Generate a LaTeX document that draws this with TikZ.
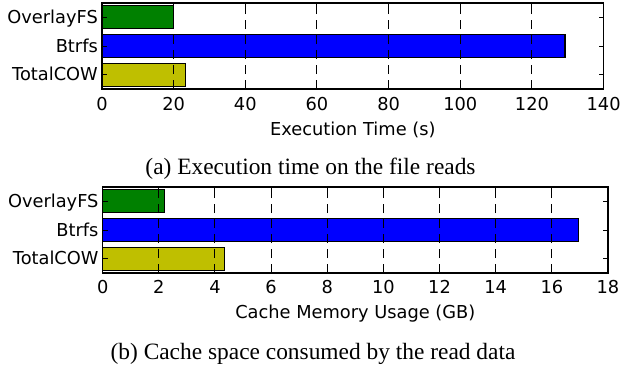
\documentclass[tikz,border=0pt]{standalone}
\usepackage{fontspec}
\setmainfont{Liberation Serif}
\newfontfamily\dejavu{DejaVu Sans}
\definecolor{mgreen}{RGB}{0,128,0}
\definecolor{mblue}{RGB}{0,0,255}
\definecolor{myellow}{RGB}{191,191,0}
\begin{document}
\begin{tikzpicture}[x=1pt,y=-1pt,
  bar/.style={draw=black, line width=1.2pt, anchor=west, minimum height=22.9pt, inner sep=0pt, outer sep=0pt},
  gridline/.style={line width=1pt, dash pattern=on 9pt off 6pt},
  frame/.style={line width=1.3pt},
  tickmark/.style={line width=1pt},
  ticklabel/.style={font=\dejavu\fontsize{17.8}{20}\selectfont, inner sep=0pt},
  axlabel/.style={font=\dejavu\fontsize{17.8}{20}\selectfont, inner sep=0pt, anchor=base},
  capt/.style={font=\fontsize{23.4}{26}\selectfont, inner sep=0pt, anchor=base}]
\useasboundingbox (0,0) rectangle (623,370);

% ---------- top plot ----------
\def\ux{3.583}
\node[bar, fill=mgreen,  minimum width=20*\ux pt]    (ta) at (102,17.3) {};
\node[bar, fill=mblue,   minimum width=129.2*\ux pt] (tb) at (102,46.0) {};
\node[bar, fill=myellow, minimum width=23.4*\ux pt]  (tc) at (102,74.7) {};
\foreach \v in {20,40,...,120}{
  \draw[gridline] ({102+\v*\ux},89) -- ({102+\v*\ux},3);
}
\coordinate (tnw) at (102,3);
\coordinate (tse) at (603.6,89);
\draw[frame] (tnw) rectangle (tse);
\foreach \v in {0,20,...,140}{
  \draw[tickmark] ({102+\v*\ux},89) -- ++(0,-5);
  \draw[tickmark] ({102+\v*\ux},3) -- ++(0,5);
  \node[ticklabel, anchor=base] at ({102+\v*\ux},110) {\v};
}
\foreach \yy in {17.3,46.0,74.7}{
  \draw[tickmark] (102,\yy) -- ++(5,0);
  \draw[tickmark] (603.6,\yy) -- ++(-5,0);
}
\node[ticklabel, anchor=base east] (tla) at (98,23.3) {OverlayFS};
\node[ticklabel, anchor=base east] (tlb) at (98,52.0) {Btrfs};
\node[ticklabel, anchor=base east] (tlc) at (98,80.7) {TotalCOW};
\node[axlabel] (txl) at (352.8,135) {Execution Time (s)};
\node[capt] (capa) at (310.5,174) {(a) Execution time on the file reads};

% ---------- bottom plot ----------
\def\vx{28.07}
\def\bx{102.7}
\node[bar, fill=mgreen,  minimum width=2.19*\vx pt] (ba) at (\bx,201.3) {};
\node[bar, fill=mblue,   minimum width=16.95*\vx pt] (bb) at (\bx,230.0) {};
\node[bar, fill=myellow, minimum width=4.33*\vx pt] (bc) at (\bx,258.7) {};
\foreach \v in {2,4,...,16}{
  \draw[gridline] ({\bx+\v*\vx},273) -- ({\bx+\v*\vx},187);
}
\coordinate (bnw) at (\bx,187);
\coordinate (bse) at (608,273);
\draw[frame] (bnw) rectangle (bse);
\foreach \v in {0,2,...,18}{
  \draw[tickmark] ({\bx+\v*\vx},273) -- ++(0,-5);
  \draw[tickmark] ({\bx+\v*\vx},187) -- ++(0,5);
  \node[ticklabel, anchor=base] at ({\bx+\v*\vx},293) {\v};
}
\foreach \yy in {201.3,230.0,258.7}{
  \draw[tickmark] (\bx,\yy) -- ++(5,0);
  \draw[tickmark] (608,\yy) -- ++(-5,0);
}
\node[ticklabel, anchor=base east] (bla) at (98.7,207.3) {OverlayFS};
\node[ticklabel, anchor=base east] (blb) at (98.7,236.0) {Btrfs};
\node[ticklabel, anchor=base east] (blc) at (98.7,264.7) {TotalCOW};
\node[axlabel] (bxl) at (355.3,318) {Cache Memory Usage (GB)};
\node[capt] (capb) at (313,359) {(b) Cache space consumed by the read data};
\end{tikzpicture}
\end{document}
